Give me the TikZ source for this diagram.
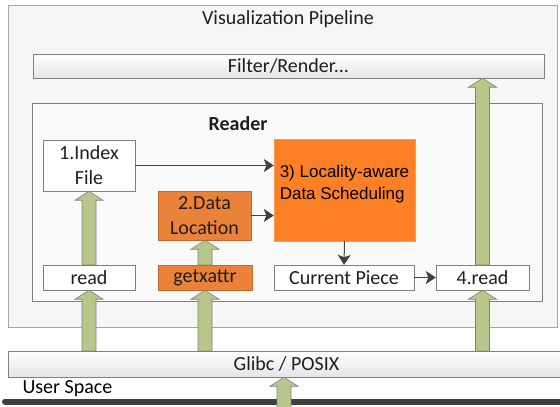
\documentclass[tikz,border=0pt]{standalone}
\usepackage{fontspec}
\setmainfont{Carlito}
\newfontfamily\arialfont{Liberation Sans}
\usetikzlibrary{arrows.meta,calc}

\definecolor{bordgris}{RGB}{128,128,128}
\definecolor{gristexte}{RGB}{30,30,30}
\definecolor{grisfonce}{RGB}{64,64,64}
\definecolor{fondcadre}{RGB}{246,246,246}
\definecolor{orangevif}{RGB}{253,128,38}
\definecolor{orangeterne}{RGB}{234,130,58}
\definecolor{bordorange}{RGB}{190,105,45}
\definecolor{vert}{RGB}{185,198,138}

\tikzset{
    cadre/.style={draw=bordgris!70, fill=fondcadre, inner sep=0pt},
    boite/.style={draw=bordgris, fill=white, inner sep=0pt, align=center, text=gristexte,
        font=\fontsize{20}{25}\selectfont},
    boiteorange/.style={boite, fill=orangeterne, draw=bordorange},
    degrade/.style={top color=white, bottom color=white!90!black},
    flechenoire/.style={draw=grisfonce, line width=1pt, -{Stealth[length=10pt, width=13pt, inset=2.5pt]}},
    flecheverte/.style={draw=bordgris, fill=vert, line width=.6pt},
}

% grosse fleche verte : du point #1 jusqu'a la pointe en #2
\newcommand{\fleche}[2]{%
    \draw[flecheverte] let \p1 = (#1), \p2 = (#2) in
        (\x1-7pt, \y1) -- (\x1-7pt, \y2-9pt) -- (\x1-14pt, \y2-9pt) -- (\x1, \y2)
        -- (\x1+14pt, \y2-9pt) -- (\x1+7pt, \y2-9pt) -- (\x1+7pt, \y1) -- cycle;
}

\begin{document}
\begin{tikzpicture}[x=1pt, y=-1pt]
    \useasboundingbox (0,0) rectangle (560,407);

    \node[cadre, anchor=north west, minimum width=549pt, minimum height=322pt] (pipeline) at (8,5) {};
    \node[font=\fontsize{20}{24}\selectfont, text=gristexte] (titre) at (288,19) {Visualization Pipeline};
    \node[boite, degrade, minimum width=511pt, minimum height=24pt] (filter) at (288.5,66) {Filter/Render...};

    \node[cadre, draw=bordgris, fill=white!98!black, minimum width=510pt, minimum height=198pt] (reader) at (287,202) {};
    \node[font=\bfseries\fontsize{20}{24}\selectfont, text=gristexte] (titrereader) at (238,124) {Reader};

    \node[boite, minimum width=92pt, minimum height=51pt] (index) at (89,165.5) {1.Index\\File};
    \node[boiteorange, minimum width=93pt, minimum height=49pt] (dataloc) at (204.5,215.5) {2.Data\\Location};
    \node[boite, fill=orangevif, draw=orangevif!80!white, align=left, text=black, text depth=15pt,
        font=\arialfont\fontsize{17}{22}\selectfont, minimum width=141pt, minimum height=102pt]
        (sched) at (344.5,190) {3) Locality-aware\\Data Scheduling};

    \foreach \nom/\x/\largeur/\texte in {rd/89/92pt/read, current/344/140pt/Current Piece, fourread/482.5/93pt/4.read} {
        \node[boite, minimum width=\largeur, minimum height=25pt] (\nom) at (\x,277.5) {\texte};
    }
    \node[boiteorange, minimum width=94pt, minimum height=25pt] (getx) at (205,277.5) {getxattr};

    \draw[flechenoire] (index.east) -- (index.east -| sched.west);
    \draw[flechenoire] (dataloc.east) -- (dataloc.east -| sched.west);
    \draw[flechenoire] (sched.south) -- (current.north);
    \draw[flechenoire] (current.east) -- (fourread.west);

    \node[boite, degrade, minimum width=557pt, minimum height=26pt] (glibc) at (286.5,364) {Glibc / POSIX};
    \draw[line width=6pt, line cap=round, grisfonce] (5,401.5) -- (566,401.5);
    \node[anchor=base west, font=\fontsize{20}{24}\selectfont, text=black] (userspace) at (19,393) {User Space};
    \coordinate (noyau) at (284,412);

    \fleche{rd.north}{index.south}
    \fleche{getx.north}{dataloc.south}
    \fleche{fourread.north}{filter.south}
    \fleche{glibc.north -| rd}{rd.south}
    \fleche{glibc.north -| getx}{getx.south}
    \fleche{glibc.north -| fourread}{fourread.south}
    \fleche{noyau}{glibc.south}
\end{tikzpicture}
\end{document}
